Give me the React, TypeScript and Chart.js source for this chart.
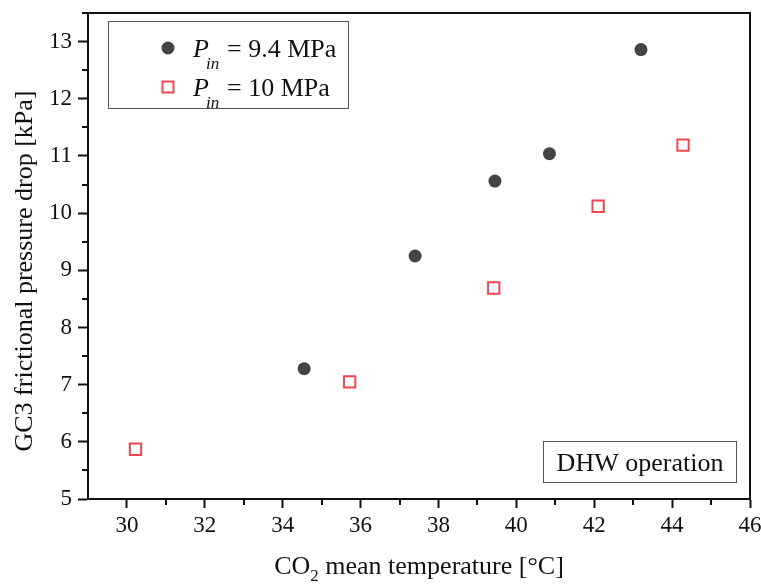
import React, { useEffect, useRef } from "react";
import { Chart, registerables } from "chart.js";

Chart.register(...registerables);

// Data
const tempP94 = [34.55, 37.4, 39.45, 40.85, 43.2];
const dropP94 = [7.28, 9.25, 10.56, 11.04, 12.86];
const tempP10 = [30.22, 35.72, 39.42, 42.1, 44.28];
const dropP10 = [5.87, 7.05, 8.69, 10.12, 11.19];

const xMajorTicks = [30, 32, 34, 36, 38, 40, 42, 44, 46];
const xMinorTicks = [31, 33, 35, 37, 39, 41, 43, 45];
const yMajorTicks = [5, 6, 7, 8, 9, 10, 11, 12, 13];
const yMinorTicks = [5.5, 6.5, 7.5, 8.5, 9.5, 10.5, 11.5, 12.5, 13.5];

const seriesLabelA = "= 9.4 MPa";
const seriesLabelB = "= 10 MPa";
const annotationText = "DHW operation";

const SERIF = "'Liberation Serif', 'Times New Roman', serif";
const CIRCLE_COLOR = "#444444";
const SQUARE_COLOR = "#f0474f";

const overlayPlugin = {
  id: "overlay",
  afterDraw(chart: any) {
    const ctx = chart.ctx as CanvasRenderingContext2D;
    const { left, right, top, bottom } = chart.chartArea;
    const xs = chart.scales.x;
    const ys = chart.scales.y;
    ctx.save();
    // frame
    ctx.strokeStyle = "#111";
    ctx.lineWidth = 2;
    ctx.beginPath();
    ctx.moveTo(left, top);
    ctx.lineTo(right, top);
    ctx.lineTo(right, bottom);
    ctx.stroke();
    // minor ticks
    ctx.lineWidth = 2;
    ctx.beginPath();
    xMinorTicks.forEach((v) => {
      const px = Math.round(xs.getPixelForValue(v));
      ctx.moveTo(px, bottom);
      ctx.lineTo(px, bottom + 6);
    });
    yMinorTicks.forEach((v) => {
      const py = Math.round(ys.getPixelForValue(v));
      ctx.moveTo(left, py);
      ctx.lineTo(left - 6, py);
    });
    ctx.stroke();

    // legend box
    ctx.lineWidth = 1;
    ctx.strokeStyle = "#555";
    ctx.strokeRect(108.5, 21.5, 240, 87);
    // markers
    const mx = 168;
    const y1 = 48;
    const y2 = 87;
    ctx.fillStyle = CIRCLE_COLOR;
    ctx.beginPath();
    ctx.arc(mx, y1, 6.5, 0, Math.PI * 2);
    ctx.fill();
    ctx.strokeStyle = SQUARE_COLOR;
    ctx.lineWidth = 2;
    ctx.strokeRect(mx - 5.5, y2 - 5.5, 11, 11);
    // legend text
    ctx.fillStyle = "#111";
    ctx.textBaseline = "alphabetic";
    const drawEntry = (y: number, label: string) => {
      ctx.font = `italic 26px ${SERIF}`;
      ctx.fillText("P", 193, y + 9);
      ctx.font = `italic 17px ${SERIF}`;
      ctx.fillText("in", 206, y + 21);
      ctx.font = `26px ${SERIF}`;
      ctx.fillText(label, 227, y + 9);
    };
    drawEntry(y1, seriesLabelA);
    drawEntry(y2, seriesLabelB);

    // DHW box
    ctx.lineWidth = 1;
    ctx.strokeStyle = "#555";
    ctx.strokeRect(543.5, 441.5, 193, 41);
    ctx.font = `26px ${SERIF}`;
    ctx.textAlign = "center";
    ctx.fillText(annotationText, 640, 471);

    // x title with subscript
    const xt1 = "CO";
    const xt2 = "2";
    const xt3 = " mean temperature [°C]";
    ctx.textAlign = "left";
    ctx.font = `26px ${SERIF}`;
    const w1 = ctx.measureText(xt1).width;
    const w3 = ctx.measureText(xt3).width;
    ctx.font = `17px ${SERIF}`;
    const w2 = ctx.measureText(xt2).width;
    const total = w1 + w2 + w3;
    const sx = 419 - total / 2;
    ctx.font = `26px ${SERIF}`;
    ctx.fillText(xt1, sx, 574);
    ctx.font = `17px ${SERIF}`;
    ctx.fillText(xt2, sx + w1, 581);
    ctx.font = `26px ${SERIF}`;
    ctx.fillText(xt3, sx + w1 + w2, 574);

    // y title
    ctx.translate(32, 271);
    ctx.rotate(-Math.PI / 2);
    ctx.textAlign = "center";
    ctx.font = `26px ${SERIF}`;
    ctx.fillText("GC3 frictional pressure drop [kPa]", 0, 0);
    ctx.restore();
  },
};

export default function App() {
  const ref = useRef<HTMLCanvasElement | null>(null);
  useEffect(() => {
    if (!ref.current) return;
    const chart = new Chart(ref.current, {
      type: "scatter",
      data: {
        datasets: [
          {
            label: "P_in = 9.4 MPa",
            data: tempP94.map((x, i) => ({ x, y: dropP94[i] })),
            pointStyle: "circle",
            pointRadius: 6.5,
            backgroundColor: CIRCLE_COLOR,
            borderColor: CIRCLE_COLOR,
            borderWidth: 0,
          },
          {
            label: "P_in = 10 MPa",
            data: tempP10.map((x, i) => ({ x, y: dropP10[i] })),
            pointStyle: "rect",
            pointRadius: 8,
            backgroundColor: "#ffffff",
            borderColor: SQUARE_COLOR,
            borderWidth: 2,
          },
        ],
      },
      options: {
        responsive: false,
        animation: false,
        layout: { padding: { top: 13, right: 11, left: 0, bottom: 0 } },
        plugins: { legend: { display: false }, tooltip: { enabled: false } },
        scales: {
          x: {
            type: "linear",
            min: 29,
            max: 46,
            afterBuildTicks: (s: any) => {
              s.ticks = xMajorTicks.map((v) => ({ value: v }));
            },
            afterFit: (s: any) => {
              s.height = 85;
              s.paddingLeft = 0;
              s.paddingRight = 0;
            },
            border: { display: true, color: "#111", width: 2 },
            grid: {
              drawOnChartArea: false,
              drawTicks: true,
              tickLength: 9,
              tickWidth: 2,
              tickColor: "#111",
            },
            ticks: {
              color: "#111",
              font: { family: SERIF, size: 23 },
              padding: 4,
              maxRotation: 0,
              autoSkip: false,
            },
          },
          y: {
            type: "linear",
            min: 5,
            max: 13.5,
            afterBuildTicks: (s: any) => {
              s.ticks = yMajorTicks.map((v) => ({ value: v }));
            },
            afterFit: (s: any) => {
              s.width = 88;
              s.paddingTop = 0;
              s.paddingBottom = 0;
            },
            border: { display: true, color: "#111", width: 2 },
            grid: {
              drawOnChartArea: false,
              drawTicks: true,
              tickLength: 10,
              tickWidth: 2,
              tickColor: "#111",
            },
            ticks: {
              color: "#111",
              font: { family: SERIF, size: 23 },
              padding: 6,
              autoSkip: false,
            },
          },
        },
      },
      plugins: [overlayPlugin],
    });
    return () => chart.destroy();
  }, []);
  return (
    <div style={{ position: "fixed", left: 0, top: 0, width: 761, height: 584, background: "#fff" }}>
      <canvas ref={ref} width={761} height={584} style={{ width: 761, height: 584 }} />
    </div>
  );
}
